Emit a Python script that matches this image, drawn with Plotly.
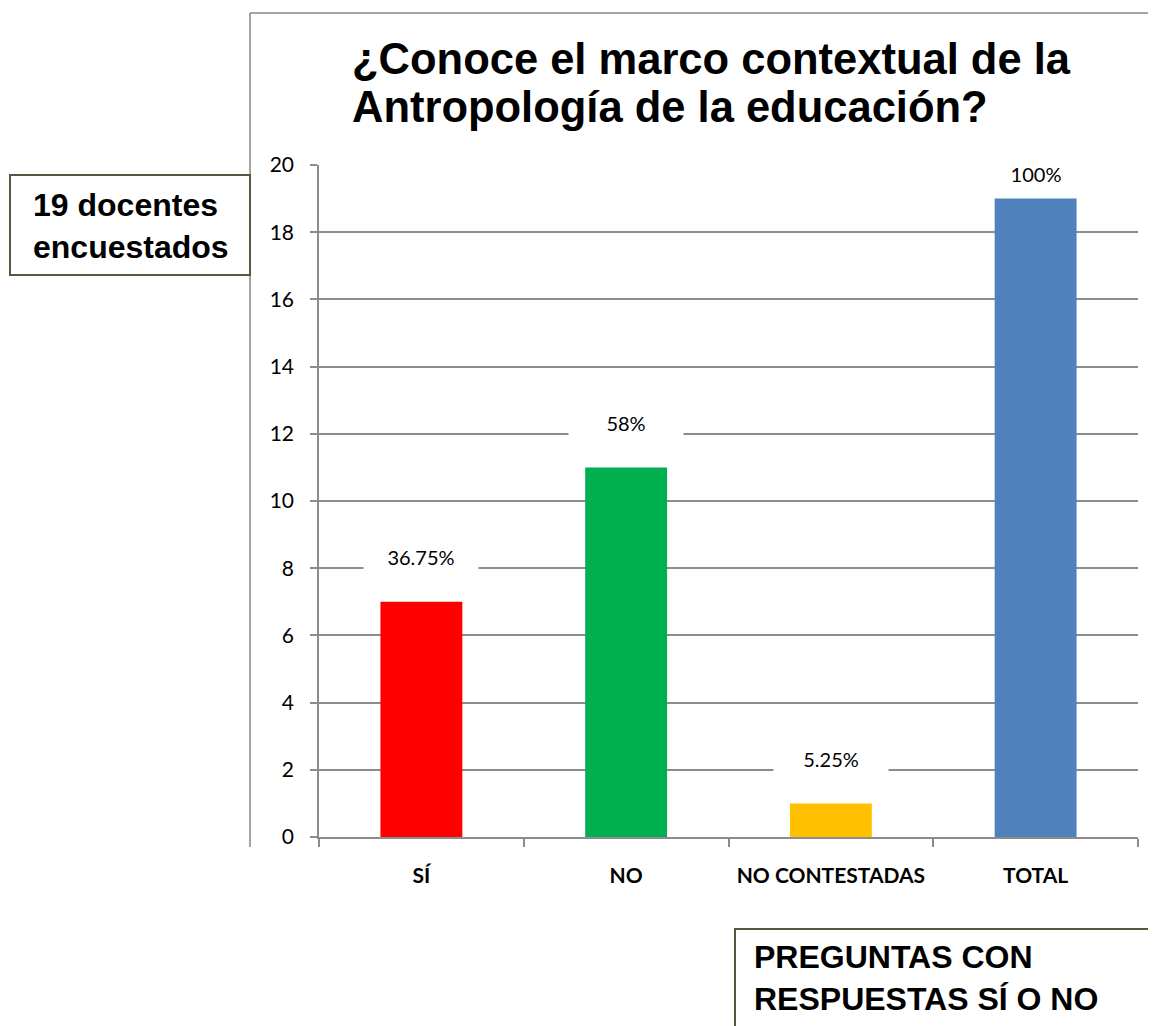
import plotly.graph_objects as go

# ── datos ────────────────────────────────────────────────────────────────────
categorias = ["SÍ", "NO", "NO CONTESTADAS", "TOTAL"]
docentes   = [7, 11, 1, 19]
porcentaje = ["36.75%", "58%", "5.25%", "100%"]
colores    = ["#FF0000", "#00B050", "#FFC000", "#4F81BD"]
y_ticks    = [0, 2, 4, 6, 8, 10, 12, 14, 16, 18, 20]

_W, _H = 1156, 1026
_OFF = 8          # margen del <body> en la página
# área de trazado en píxeles de pantalla
_L, _R, _T, _B = 319, 1138, 165, 837
_GRID = "#8c8c8c"
_BOX  = "#5a563f"
_FONT_TXT = "Lato, 'Open Sans', sans-serif"
_FONT_ARIAL = "'Liberation Sans', Arial, sans-serif"


def px(x):
    return (x - _L) / (_R - _L)


def py(y):
    return (_B - y) / (_B - _T)


fig = go.Figure(go.Bar(
    x=categorias,
    y=docentes,
    marker=dict(color=colores, line=dict(width=0)),
    width=0.4,
    hoverinfo="x+y",
))

# etiquetas de datos con fondo blanco (tapan la rejilla)
for cat, v, txt in zip(categorias, docentes, porcentaje):
    fig.add_annotation(
        x=cat, y=min(v + 1.45, 19.85), text=txt, showarrow=False,
        font=dict(size=20, color="#000000", family=_FONT_TXT),
        bgcolor="white", width=112, height=34, yshift=-4,
    )

# título (dos líneas)
for txt, ytop in [("¿Conoce el marco contextual de la", 33),
                  ("Antropología de la educación?", 81)]:
    fig.add_annotation(
        xref="paper", yref="paper", x=px(350), y=py(ytop),
        xanchor="left", yanchor="top", align="left", showarrow=False,
        text=f"<b>{txt}</b>",
        font=dict(size=43.5, color="#000000", family=_FONT_ARIAL),
    )

shapes = [
    # marco superior e izquierdo
    dict(type="line", xref="paper", yref="paper", x0=px(250), x1=px(1170),
         y0=py(13), y1=py(13), line=dict(color="#868686", width=1.5)),
    dict(type="line", xref="paper", yref="paper", x0=px(250), x1=px(250),
         y0=py(13), y1=py(847), line=dict(color="#868686", width=1.5)),
    # cuadro izquierdo
    dict(type="rect", xref="paper", yref="paper", x0=px(10), x1=px(250),
         y0=py(175), y1=py(275), line=dict(color=_BOX, width=2), fillcolor="white"),
    # cuadro inferior
    dict(type="rect", xref="paper", yref="paper", x0=px(735), x1=px(1170),
         y0=py(929), y1=py(1040), line=dict(color=_BOX, width=2), fillcolor="white"),
]

fig.add_annotation(
    xref="paper", yref="paper", x=px(31), y=py(226),
    xanchor="left", yanchor="middle", align="left", showarrow=False,
    text="<b>19 docentes<br>encuestados</b>",
    font=dict(size=32, color="#000000", family=_FONT_ARIAL),
)
fig.add_annotation(
    xref="paper", yref="paper", x=px(752), y=py(937),
    xanchor="left", yanchor="top", align="left", showarrow=False,
    text="<b>PREGUNTAS CON<br>RESPUESTAS SÍ O NO</b>",
    font=dict(size=32, color="#000000", family=_FONT_ARIAL),
)

fig.update_layout(
    width=_W, height=_H,
    margin=dict(l=_L - _OFF, r=_W - _R + _OFF, t=_T - _OFF, b=_H - _B + _OFF, pad=0),
    paper_bgcolor="white", plot_bgcolor="white",
    showlegend=False,
    shapes=shapes,
    font=dict(family=_FONT_TXT, size=18, color="#000000"),
    bargap=0.6,
    xaxis=dict(
        showline=True, linecolor=_GRID, linewidth=1.5,
        ticks="outside", tickson="boundaries", ticklen=8, tickcolor=_GRID, tickwidth=1.5,
        tickfont=dict(size=21, family=_FONT_TXT, color="#000000"),
        tickvals=categorias,
        ticktext=[f"<b>{c}</b>" for c in categorias],
        tickangle=0,
        ticklabelstandoff=19,
        showgrid=False,
    ),
    yaxis=dict(
        range=[0, 20], tickvals=y_ticks,
        showline=True, linecolor=_GRID, linewidth=1.5,
        ticks="outside", ticklen=7, tickcolor=_GRID, tickwidth=1.5,
        showgrid=True, gridcolor=_GRID, gridwidth=1.5,
        zeroline=False,
        tickfont=dict(size=21, family=_FONT_TXT, color="#000000"),
        ticklabelstandoff=12,
    ),
)

fig.write_html("out.html")
